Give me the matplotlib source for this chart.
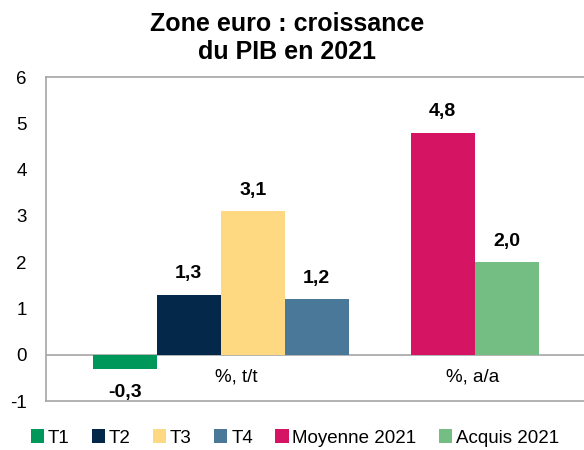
import matplotlib
matplotlib.use("Agg")
import matplotlib.pyplot as plt
from matplotlib.patches import Patch

plt.rcParams['font.family'] = ['Liberation Sans', 'DejaVu Sans']

series = ["T1", "T2", "T3", "T4", "Moyenne 2021", "Acquis 2021"]
values = [-0.3, 1.3, 3.1, 1.2, 4.8, 2.0]
labels = ["-0,3", "1,3", "3,1", "1,2", "4,8", "2,0"]
colors = ["#00975a", "#03284a", "#fed981", "#4a7898", "#d51563", "#74bd83"]
positions = [1.23, 2.23, 3.23, 4.23, 6.20, 7.20]
categories = ["%, t/t", "%, a/a"]
cat_pos = [2.97, 6.66]
yticks = [-1, 0, 1, 2, 3, 4, 5, 6]

fig = plt.figure(figsize=(5.84, 4.5), dpi=100)
ax = fig.add_axes([46/584, 1-401/450, 1-46/584, (401-77)/450])

ax.bar(positions, values, width=1.0, color=colors, zorder=2)
ax.set_xlim(0, (584-46)/64)
ax.set_ylim(-1, 6)
ax.set_yticks(yticks)
ax.set_yticklabels([str(t) for t in yticks], fontsize=13.5)
ax.tick_params(axis='y', length=0, pad=14)
ax.set_xticks([])
ax.axhline(0, color="#a6a6a6", lw=1.2, zorder=1)
for s in ["left", "top", "bottom"]:
    ax.spines[s].set_color("#a6a6a6")
    ax.spines[s].set_linewidth(1.2)
ax.spines["right"].set_visible(False)

for p, v, l in zip(positions, values, labels):
    if v >= 0:
        ax.annotate(l, (p, v), xytext=(0, 9), textcoords="offset points",
                    ha="center", va="bottom", fontsize=14, fontweight="bold")
    else:
        ax.annotate(l, (p, v), xytext=(0, -11), textcoords="offset points",
                    ha="center", va="top", fontsize=14, fontweight="bold")

for c, p in zip(categories, cat_pos):
    ax.annotate(c, (p, 0), xytext=(0, -10), textcoords="offset points",
                ha="center", va="top", fontsize=13.5)

fig.text(287/584, 1-38/450, "Zone euro : croissance\ndu PIB en 2021", ha="center",
         va="center", fontsize=18, fontweight="bold", linespacing=1.25)

handles = [Patch(facecolor=c, label=s) for s, c in zip(series, colors)]
fig.legend(handles=handles, loc="center", bbox_to_anchor=(0.505, 1-438/450), ncol=6,
           frameon=False, fontsize=13.5, handlelength=0.7, handleheight=0.7,
           handletextpad=0.2, columnspacing=1.2, borderaxespad=0)

fig.savefig("out.png", dpi=100)
